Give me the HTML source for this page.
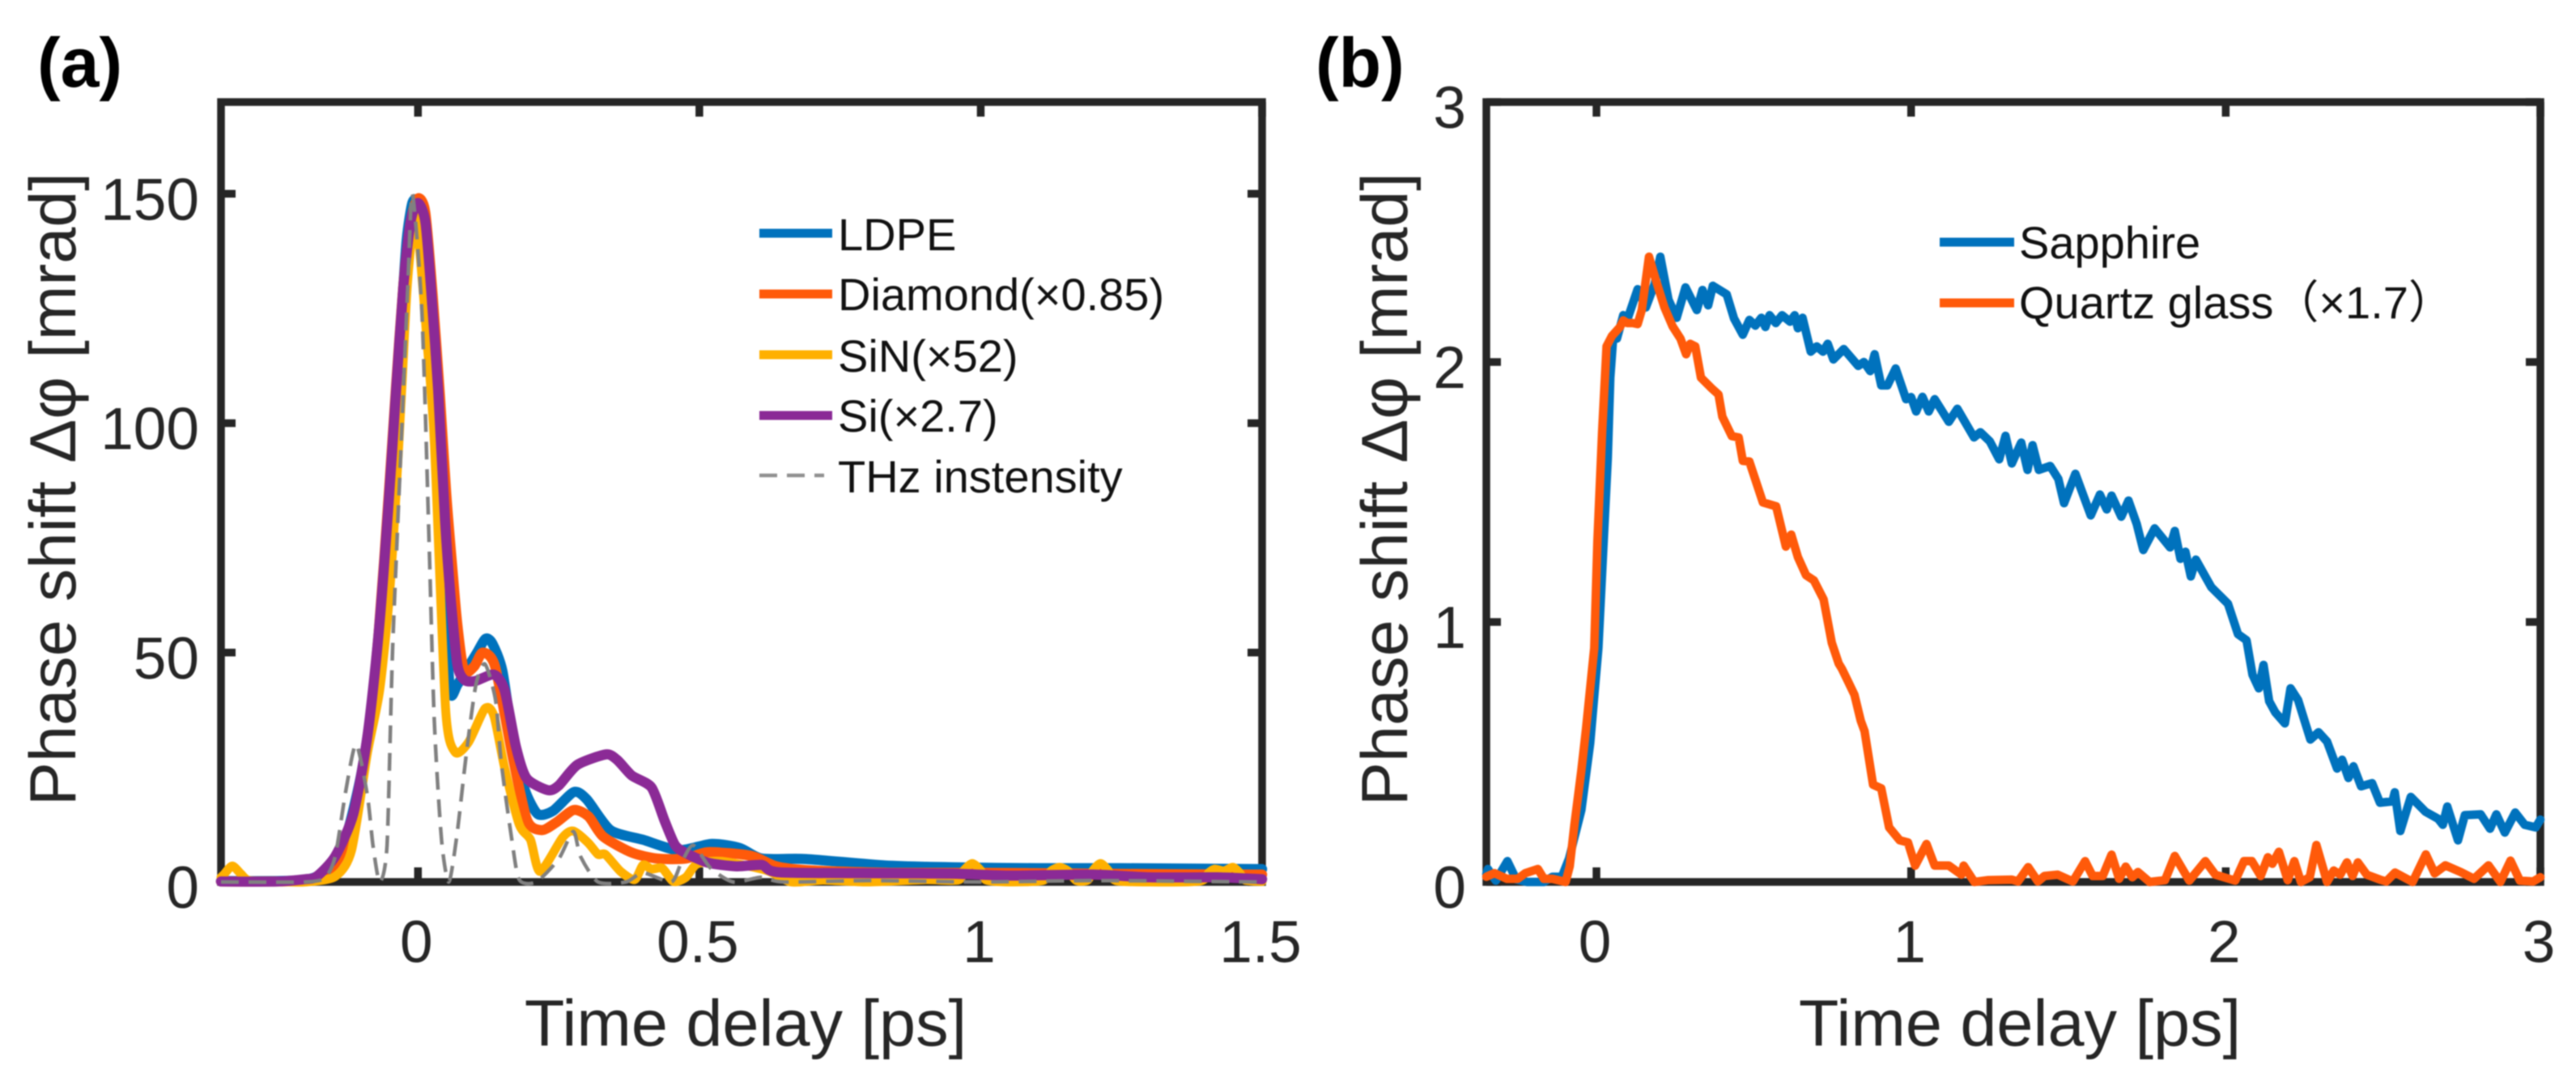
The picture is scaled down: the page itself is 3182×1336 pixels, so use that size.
<!DOCTYPE html>
<html lang="en">
<head>
<meta charset="utf-8">
<title>Phase shift vs time delay</title>
<style>
html,body{margin:0;padding:0;background:#fff}
body{width:3182px;height:1336px;overflow:hidden}
svg{display:block;filter:blur(0.9px)}
text{font-family:"Liberation Sans","Noto Sans CJK SC",sans-serif;fill:#262626}
.legend-text{fill:#111;font-size:56px}
.panel-tag{fill:#000;font-size:86px;font-weight:bold}
</style>
</head>
<body>
<svg id="figure" xmlns="http://www.w3.org/2000/svg" width="3182" height="1336" viewBox="0 0 3182 1336">
  <rect x="0" y="0" width="3182" height="1336" fill="#fff"/>
  <g id="panel-a"></g>
  <g id="panel-b"></g>

  <text class="panel-tag" x="46" y="107">(a)</text>
  <text class="panel-tag" x="1625" y="107">(b)</text>

  <g>
    <g>
      <line x1="938" x2="1028" y1="288" y2="288" stroke="#0072BD" stroke-width="11"/>
      <text class="legend-text" x="1035" y="309">LDPE</text>
    </g>
    <g>
      <line x1="938" x2="1028" y1="363" y2="363" stroke="#FF5A0A" stroke-width="11"/>
      <text class="legend-text" x="1035" y="383">Diamond(×0.85)</text>
    </g>
    <g>
      <line x1="938" x2="1028" y1="438" y2="438" stroke="#FFB000" stroke-width="11"/>
      <text class="legend-text" x="1035" y="459">SiN(×52)</text>
    </g>
    <g>
      <line x1="938" x2="1028" y1="513" y2="513" stroke="#8B2A96" stroke-width="11"/>
      <text class="legend-text" x="1035" y="533">Si(×2.7)</text>
    </g>
    <g>
      <line x1="938" x2="1018" y1="587" y2="587" stroke="#909090" stroke-width="4.5" stroke-dasharray="22 12"/>
      <text class="legend-text" x="1035" y="608">THz instensity</text>
    </g>
  </g>

  <g>
    <g>
      <line x1="2396" x2="2488" y1="299" y2="299" stroke="#0072BD" stroke-width="11"/>
      <text class="legend-text" x="2494" y="319">Sapphire</text>
    </g>
    <g>
      <line x1="2396" x2="2488" y1="374" y2="374" stroke="#FF5A0A" stroke-width="11"/>
      <text class="legend-text" x="2494" y="393">Quartz glass（×1.7）</text>
    </g>
  </g>
</svg>

<script>
/* ---------- panel (a) data ---------- */
var aXTickValues = [0, 0.5, 1, 1.5];
var aXTickLabels = ['0', '0.5', '1', '1.5'];
var aYTickValues = [0, 50, 100, 150];
var aYTickLabels = ['0', '50', '100', '150'];

var ldpeTime = [-0.35,-0.25,-0.2,-0.175,-0.15,-0.125,-0.1,-0.08,-0.065,-0.05,-0.04,-0.03,-0.02,-0.01,0,0.01,0.02,0.03,0.04,0.05,0.058,0.07,0.09,0.105,0.12,0.132,0.15,0.17,0.19,0.213,0.24,0.277,0.3,0.342,0.4,0.463,0.522,0.572,0.611,0.69,0.83,0.95,1.1,1.25,1.5];
var ldpePhase = [0.2,0.2,0.5,1.5,4.5,11,24,40,55,80,100,122,140,148,148,138,122,105,85,55,41,43,47,50,53,52,46,30,20,14.8,15.5,19.6,18,11.3,9.2,6.9,8.3,7.4,5.1,5,3.6,3.2,3,3,2.8];

var diamondTime = [-0.35,-0.25,-0.2,-0.175,-0.147,-0.115,-0.09,-0.07,-0.051,-0.039,-0.026,-0.013,0,0.013,0.026,0.039,0.05,0.06,0.07,0.082,0.1,0.115,0.137,0.168,0.194,0.22,0.246,0.277,0.303,0.329,0.38,0.425,0.476,0.515,0.592,0.637,0.7,0.84,1,1.2,1.5];
var diamondPhase = [0.1,0.1,0.3,1.2,4,12,30,54,86,108,130,144,149,146,128,106,85,70,56,46,47,50,47,27.5,13.4,11.3,13,15.7,14.3,9.9,6.4,5.1,5.1,6.5,5.7,3.4,2.5,2,2,1.8,1.6];

var sinTime = [-0.35,-0.345,-0.33,-0.315,-0.3,-0.25,-0.2,-0.147,-0.118,-0.09,-0.068,-0.051,-0.039,-0.029,-0.019,-0.006,0.003,0.016,0.029,0.049,0.066,0.09,0.119,0.135,0.154,0.18,0.2,0.217,0.257,0.276,0.302,0.32,0.333,0.36,0.385,0.4,0.415,0.434,0.454,0.476,0.496,0.54,0.62,0.663,0.72,0.8,0.9,0.96,0.97,0.985,1,1.01,1.05,1.11,1.125,1.14,1.155,1.17,1.19,1.2,1.213,1.226,1.24,1.3,1.39,1.405,1.416,1.432,1.448,1.46,1.47,1.5];
var sinPhase = [1,1.6,3.5,1.8,0.3,0.1,0,1.2,6.9,28,41.8,62,84.6,107,130,145.5,138,118,96,37.8,28.3,30.5,37.8,36.2,24.9,12.5,9.2,2.3,9.7,11.1,8.6,6,6,2.3,0.5,3.7,2.8,3,0.1,1,3.9,4.5,2.5,0,0.4,0,0.5,0.4,2.5,4,2.5,0.4,0,0.3,2.4,3.2,2.4,0.3,0.4,2.6,4,2.6,0.3,0,0.2,2,2.8,2.4,3.2,2,0.4,0.1];

var siTime = [-0.35,-0.25,-0.2,-0.18,-0.147,-0.115,-0.09,-0.07,-0.051,-0.039,-0.026,-0.013,0,0.013,0.023,0.036,0.048,0.058,0.07,0.083,0.102,0.135,0.154,0.174,0.193,0.231,0.25,0.283,0.334,0.354,0.38,0.415,0.438,0.457,0.476,0.515,0.566,0.611,0.643,0.84,0.95,1.05,1.2,1.3,1.42,1.5];
var siPhase = [0.1,0.1,0.6,1.2,5.6,14.8,31.6,54,84.6,107,129.7,144,148,144,129.7,107,79,62,47.3,44,43.8,45.2,41.8,29.5,22.6,20,21,25.5,27.8,26.6,23.2,20.6,13.4,8,6.3,4.2,3.4,3.7,2.1,1.9,1.8,1.4,1.6,1,1,0.6];

var thzTime = [-0.35,-0.2,-0.165,-0.147,-0.128,-0.11,-0.09,-0.08,-0.068,-0.055,-0.045,-0.03,-0.018,-0.01,0.007,0.02,0.029,0.042,0.055,0.07,0.086,0.103,0.119,0.138,0.148,0.167,0.18,0.21,0.25,0.276,0.289,0.32,0.37,0.4,0.45,0.467,0.489,0.52,0.56,0.61,0.65,0.8,1,1.2,1.5];
var thzPhase = [0,0,1,5.6,20,30,19,8,0,8,51,95,130,150,124,73,35,9,0,11,28,43,47.5,39.6,26,9,0.5,0,5,11,5.5,0,0,2,0,3.9,8,3,0,1,0,0.3,0,0.3,0];

/* ---------- panel (b) data ---------- */
var bXTickValues = [0, 1, 2, 3];
var bXTickLabels = ['0', '1', '2', '3'];
var bYTickValues = [0, 1, 2, 3];
var bYTickLabels = ['0', '1', '2', '3'];

var sapphireTime = [-0.35,-0.345,-0.32,-0.283,-0.255,-0.22,-0.167,-0.14,-0.11,-0.087,-0.048,-0.02,0.006,0.036,0.044,0.053,0.065,0.085,0.1,0.131,0.157,0.185,0.203,0.229,0.255,0.283,0.319,0.337,0.355,0.37,0.414,0.437,0.465,0.486,0.505,0.524,0.537,0.55,0.57,0.59,0.615,0.63,0.64,0.655,0.681,0.7,0.72,0.735,0.753,0.786,0.832,0.85,0.87,0.884,0.905,0.925,0.951,0.984,1,1.016,1.036,1.056,1.075,1.12,1.147,1.2,1.22,1.25,1.28,1.3,1.32,1.35,1.37,1.386,1.406,1.442,1.468,1.486,1.522,1.571,1.6,1.622,1.637,1.668,1.691,1.717,1.738,1.774,1.823,1.838,1.856,1.872,1.889,1.905,1.954,2.007,2.039,2.066,2.085,2.105,2.12,2.138,2.157,2.188,2.206,2.23,2.269,2.295,2.322,2.354,2.37,2.39,2.406,2.43,2.465,2.49,2.53,2.537,2.555,2.588,2.635,2.675,2.69,2.704,2.738,2.76,2.81,2.84,2.86,2.887,2.92,2.95,2.985,3];
var sapphirePhase = [0.03,0.05,0.005,0.08,0.01,0,0,0.02,0.02,0.09,0.277,0.535,0.9,1.63,1.94,2.09,2.09,2.18,2.17,2.28,2.21,2.3,2.405,2.24,2.17,2.287,2.2,2.277,2.218,2.293,2.26,2.168,2.105,2.162,2.14,2.17,2.135,2.18,2.15,2.18,2.155,2.18,2.13,2.17,2.04,2.06,2.04,2.07,2.01,2.05,1.985,2,1.965,2.03,1.91,1.91,1.975,1.857,1.865,1.81,1.866,1.81,1.857,1.77,1.82,1.71,1.73,1.695,1.626,1.716,1.61,1.69,1.585,1.68,1.585,1.6,1.55,1.457,1.57,1.41,1.49,1.433,1.486,1.405,1.467,1.377,1.277,1.36,1.287,1.35,1.243,1.27,1.175,1.24,1.134,1.07,0.953,0.93,0.797,0.745,0.835,0.695,0.653,0.61,0.745,0.7,0.548,0.576,0.54,0.436,0.47,0.4,0.445,0.368,0.38,0.305,0.31,0.345,0.196,0.327,0.27,0.243,0.22,0.29,0.16,0.257,0.26,0.205,0.26,0.19,0.267,0.22,0.21,0.24];

var quartzTime = [-0.35,-0.324,-0.285,-0.25,-0.226,-0.186,-0.167,-0.14,-0.098,-0.085,-0.07,-0.048,-0.033,-0.007,0.003,0.018,0.032,0.049,0.075,0.085,0.098,0.115,0.131,0.144,0.167,0.19,0.216,0.242,0.267,0.285,0.298,0.314,0.332,0.365,0.388,0.4,0.43,0.452,0.465,0.486,0.503,0.529,0.571,0.602,0.619,0.64,0.666,0.691,0.722,0.748,0.77,0.78,0.8,0.82,0.84,0.852,0.879,0.905,0.93,0.964,0.99,1.013,1.049,1.075,1.12,1.16,1.167,1.201,1.243,1.32,1.34,1.372,1.403,1.424,1.466,1.514,1.553,1.577,1.609,1.637,1.661,1.682,1.703,1.721,1.758,1.807,1.838,1.884,1.935,1.967,2.03,2.058,2.083,2.111,2.134,2.148,2.169,2.197,2.218,2.239,2.267,2.288,2.322,2.343,2.364,2.385,2.403,2.42,2.448,2.49,2.51,2.538,2.594,2.636,2.664,2.698,2.747,2.789,2.835,2.873,2.905,2.935,2.977,3];
var quartzPhase = [0.02,0.034,0.012,0.012,0.034,0.05,0.012,0.012,0,0.06,0.22,0.43,0.59,0.9,1.31,1.73,2.06,2.1,2.135,2.16,2.15,2.15,2.146,2.2,2.405,2.31,2.21,2.137,2.09,2.03,2.07,2.06,1.94,1.9,1.875,1.79,1.715,1.71,1.62,1.617,1.555,1.46,1.445,1.29,1.336,1.25,1.18,1.16,1.087,0.92,0.84,0.82,0.77,0.72,0.62,0.58,0.374,0.36,0.21,0.16,0.152,0.063,0.146,0.063,0.063,0.028,0.063,0,0.007,0.009,0.002,0.057,0.002,0.023,0.028,0.002,0.08,0.023,0.023,0.105,0.012,0.059,0.018,0.038,0,0.007,0.1,0.005,0.08,0.028,0.005,0.08,0.08,0.023,0.095,0.07,0.116,0.007,0.08,0,0.018,0.142,0,0.044,0.028,0.075,0.023,0.075,0.028,0.009,0.002,0.036,0,0.106,0.033,0.064,0.038,0.012,0.064,0,0.082,0.005,0.002,0.018];

/* ---------- helpers ---------- */
var SVGNS = 'http://www.w3.org/2000/svg';

function makeScale(d0, d1, r0, r1) {
  return function (v) { return r0 + (v - d0) / (d1 - d0) * (r1 - r0); };
}

function linearPath(xs, ys, sx, sy) {
  var d = '';
  for (var i = 0; i < xs.length; i++) {
    d += (i ? 'L' : 'M') + sx(xs[i]).toFixed(1) + ' ' + sy(ys[i]).toFixed(1);
  }
  return d;
}

function smoothPath(xs, ys, sx, sy) {
  var p = [];
  for (var i = 0; i < xs.length; i++) p.push([sx(xs[i]), sy(ys[i])]);
  var d = 'M' + p[0][0].toFixed(1) + ' ' + p[0][1].toFixed(1);
  for (var j = 0; j < p.length - 1; j++) {
    var a = p[Math.max(j - 1, 0)], b = p[j], c = p[j + 1], e = p[Math.min(j + 2, p.length - 1)];
    var k = 0.12;
    d += 'C' + (b[0] + (c[0] - a[0]) * k).toFixed(1) + ' ' + (b[1] + (c[1] - a[1]) * k).toFixed(1) + ' ' +
         (c[0] - (e[0] - b[0]) * k).toFixed(1) + ' ' + (c[1] - (e[1] - b[1]) * k).toFixed(1) + ' ' +
         c[0].toFixed(1) + ' ' + c[1].toFixed(1);
  }
  return d;
}

function drawAxes(group, box, sx, sy, xVals, xLabs, yVals, yLabs, yLabelEnd, prefix) {
  var INK = '#262626';
  var frame = document.createElementNS(SVGNS, 'rect');
  
  
  frame.setAttribute('x', box.left);
  frame.setAttribute('y', box.top);
  frame.setAttribute('width', box.right - box.left);
  frame.setAttribute('height', box.bottom - box.top);
  frame.setAttribute('fill', 'none');
  frame.setAttribute('stroke', INK);
  frame.setAttribute('stroke-width', '9.5');
  group.appendChild(frame);

  xVals.forEach(function (v, i) {
    var x = sx(v);
    [[box.bottom, box.bottom - 18], [box.top, box.top + 18]].forEach(function (pair) {
      var tick = document.createElementNS(SVGNS, 'line');
      
      
      tick.setAttribute('x1', x);
      tick.setAttribute('x2', x);
      tick.setAttribute('y1', pair[0]);
      tick.setAttribute('y2', pair[1]);
      tick.setAttribute('stroke', INK);
      tick.setAttribute('stroke-width', '9.5');
      group.appendChild(tick);
    });
    var label = document.createElementNS(SVGNS, 'text');
    
    
    label.setAttribute('x', x - 2);
    label.setAttribute('y', box.bottom + 99);
    label.setAttribute('font-size', '73');
    label.setAttribute('text-anchor', 'middle');
    label.textContent = xLabs[i];
    group.appendChild(label);
  });

  yVals.forEach(function (v, i) {
    var y = sy(v);
    [[box.left, box.left + 18], [box.right, box.right - 18]].forEach(function (pair) {
      var tick = document.createElementNS(SVGNS, 'line');
      
      
      tick.setAttribute('x1', pair[0]);
      tick.setAttribute('x2', pair[1]);
      tick.setAttribute('y1', y);
      tick.setAttribute('y2', y);
      tick.setAttribute('stroke', INK);
      tick.setAttribute('stroke-width', '9.5');
      group.appendChild(tick);
    });
    var label = document.createElementNS(SVGNS, 'text');
    
    
    label.setAttribute('x', yLabelEnd);
    label.setAttribute('y', y + 32);
    label.setAttribute('font-size', '73');
    label.setAttribute('text-anchor', 'end');
    label.textContent = yLabs[i];
    group.appendChild(label);
  });
}

function drawTitle(group, name, text, x, y, rotate) {
  var t = document.createElementNS(SVGNS, 'text');
  
  
  t.setAttribute('font-size', rotate ? '81' : '81');
  if (rotate) {
    t.setAttribute('transform', 'translate(' + x + ' ' + y + ') rotate(-90)');
  } else {
    t.setAttribute('x', x);
    t.setAttribute('y', y);
    t.setAttribute('text-anchor', 'middle');
  }
  t.textContent = text;
  group.appendChild(t);
}

function drawSeries(group, name, d, color, width, dash) {
  var line = document.createElementNS(SVGNS, 'path');
  
  
  line.setAttribute('d', d);
  line.setAttribute('fill', 'none');
  line.setAttribute('stroke', color);
  line.setAttribute('stroke-width', width);
  line.setAttribute('stroke-linejoin', 'round');
  if (dash) {
    line.setAttribute('stroke-dasharray', dash);
  } else {
    line.setAttribute('stroke-linecap', 'round');
  }
  group.appendChild(line);
}

/* ---------- panel (a) ---------- */
var boxA = { left: 273, right: 1559, top: 126, bottom: 1089 };
var xA = makeScale(-0.35, 1.5, boxA.left, boxA.right);
var yA = makeScale(0, 170, boxA.bottom, boxA.top);
var panelA = document.getElementById('panel-a');
drawAxes(panelA, boxA, xA, yA, aXTickValues, aXTickLabels, aYTickValues, aYTickLabels, 246, 'panel-a');
drawTitle(panelA, 'panel-a-x-axis-title', 'Time delay [ps]', 921, 1291, false);
drawTitle(panelA, 'panel-a-y-axis-title', 'Phase shift Δφ [mrad]', 93, 995, true);
drawSeries(panelA, 'series-ldpe', smoothPath(ldpeTime, ldpePhase, xA, yA), '#0072BD', 12.5);
drawSeries(panelA, 'series-diamond', smoothPath(diamondTime, diamondPhase, xA, yA), '#FF5A0A', 12.5);
drawSeries(panelA, 'series-sin', smoothPath(sinTime, sinPhase, xA, yA), '#FFB000', 11);
drawSeries(panelA, 'series-si', smoothPath(siTime, siPhase, xA, yA), '#8B2A96', 12.5);
drawSeries(panelA, 'series-thz-intensity', smoothPath(thzTime, thzPhase, xA, yA), '#808080', 4.5, '22 12');

/* ---------- panel (b) ---------- */
var boxB = { left: 1836, right: 3138, top: 126, bottom: 1089 };
var xB = makeScale(-0.35, 3, boxB.left, boxB.right);
var yB = makeScale(0, 3, boxB.bottom, boxB.top);
var panelB = document.getElementById('panel-b');
drawAxes(panelB, boxB, xB, yB, bXTickValues, bXTickLabels, bYTickValues, bYTickLabels, 1811, 'panel-b');
drawTitle(panelB, 'panel-b-x-axis-title', 'Time delay [ps]', 2495, 1291, false);
drawTitle(panelB, 'panel-b-y-axis-title', 'Phase shift Δφ [mrad]', 1738, 995, true);
drawSeries(panelB, 'series-sapphire', linearPath(sapphireTime, sapphirePhase, xB, yB), '#0072BD', 10.5);
drawSeries(panelB, 'series-quartz-glass', linearPath(quartzTime, quartzPhase, xB, yB), '#FF5A0A', 10.5);
</script>
</body>
</html>
